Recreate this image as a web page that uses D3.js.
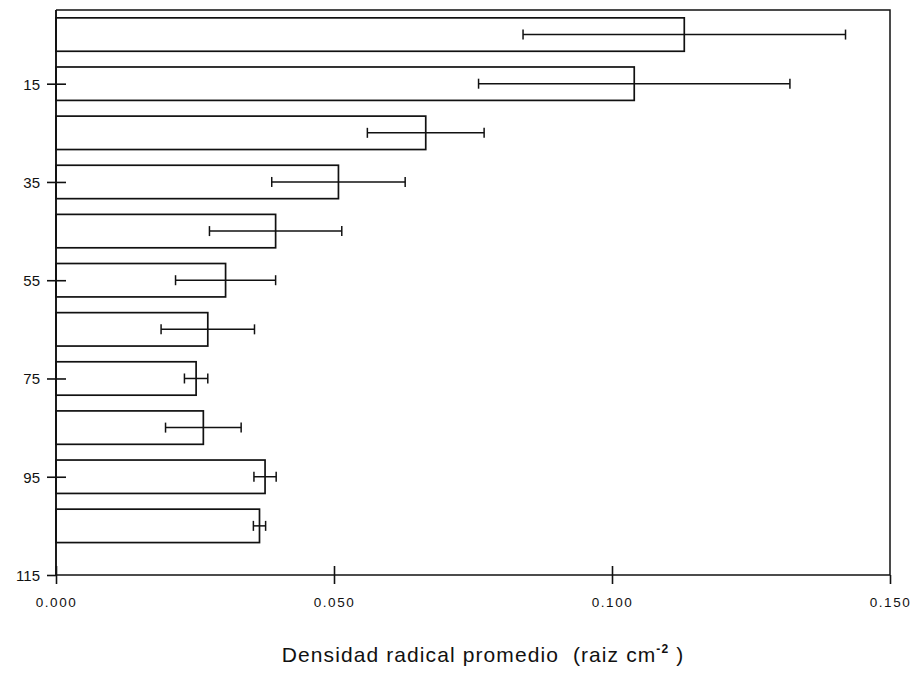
<!DOCTYPE html>
<html>
<head>
<meta charset="utf-8">
<script src="https://cdn.jsdelivr.net/npm/d3@7"></script>
<style>
  html, body { margin: 0; padding: 0; background: #fff; }
  svg { display: block; }
  text { font-family: "Liberation Sans", "DejaVu Sans", sans-serif; fill: #111; }
</style>
</head>
<body>
<svg id="chart" width="912" height="673"></svg>
<script>
// Soil depth (cm) at the middle of each layer
const depths = [5, 15, 25, 35, 45, 55, 65, 75, 85, 95, 105];
// Mean root density per layer
const means = [0.1130, 0.1040, 0.0665, 0.0508, 0.0395, 0.0305, 0.0273, 0.0252, 0.0265, 0.0376, 0.0366];
// Error half-widths
const errors = [0.0290, 0.0280, 0.0105, 0.0120, 0.0119, 0.0090, 0.0084, 0.0021, 0.0068, 0.0020, 0.0011];
// Axis tick values and labels
const yTicks = [15, 35, 55, 75, 95, 115];
const xTicks = [0, 0.05, 0.10, 0.15];
const xTickLabels = ["0.000", "0.050", "0.100", "0.150"];

(function draw() {
  const svg = d3.select("#chart");
  const mLeft = 56, mRight = 890, mTop = 10, mBottom = 575;

  const x = d3.scaleLinear().domain([0, 0.15]).range([mLeft, mRight]);
  const y = d3.scaleLinear().domain([0, 115]).range([mTop, mBottom]);
  const barThick = 6.8; // in depth units

  const ink = "#111";
  const g = svg.append("g");

  // Bars
  g.selectAll("rect.bar")
    .data(depths)
    .join("rect")
    .attr("class", "bar")
    .attr("x", x(0))
    .attr("y", d => y(d - barThick / 2))
    .attr("width", (d, i) => x(means[i]) - x(0))
    .attr("height", y(barThick) - y(0))
    .attr("fill", "#fff")
    .attr("stroke", ink)
    .attr("stroke-width", 1.7);

  // Error bars
  const eb = g.selectAll("g.err").data(depths).join("g").attr("class", "err");
  eb.append("line")
    .attr("x1", (d, i) => x(means[i] - errors[i]))
    .attr("x2", (d, i) => x(means[i] + errors[i]))
    .attr("y1", d => y(d)).attr("y2", d => y(d))
    .attr("stroke", ink).attr("stroke-width", 1.5);
  [-1, 1].forEach(s => {
    eb.append("line")
      .attr("x1", (d, i) => x(means[i] + s * errors[i]))
      .attr("x2", (d, i) => x(means[i] + s * errors[i]))
      .attr("y1", d => y(d) - 5).attr("y2", d => y(d) + 5)
      .attr("stroke", ink).attr("stroke-width", 1.5);
  });

  // Frame (top and right)
  g.append("path")
    .attr("d", `M${mLeft},${mTop}H${mRight}V${mBottom}`)
    .attr("fill", "none").attr("stroke", ink).attr("stroke-width", 1.5);

  // Y axis
  const yAxis = d3.axisLeft(y).tickValues(yTicks).tickSize(0).tickPadding(0).tickFormat(d3.format("d"));
  const ya = g.append("g").attr("transform", `translate(${mLeft},0)`).call(yAxis);
  ya.select(".domain").remove();
  ya.append("line").attr("x1", 0).attr("x2", 0).attr("y1", mTop).attr("y2", mBottom)
    .attr("stroke", ink).attr("stroke-width", 1.9);
  ya.selectAll(".tick").append("line")
    .attr("x1", -9).attr("x2", d => d === 115 ? 0 : 10)
    .attr("stroke", ink).attr("stroke-width", 1.6);
  ya.selectAll(".tick text")
    .attr("x", -16).attr("dy", "0.36em")
    .style("font-size", "15px").attr("fill", ink);

  // X axis
  const xAxis = d3.axisBottom(x).tickValues(xTicks).tickSize(0).tickPadding(0)
    .tickFormat((d, i) => xTickLabels[i]);
  const xa = g.append("g").attr("transform", `translate(0,${mBottom})`).call(xAxis);
  xa.select(".domain").remove();
  xa.append("line").attr("x1", mLeft).attr("x2", mRight).attr("y1", 0).attr("y2", 0)
    .attr("stroke", ink).attr("stroke-width", 1.7);
  xa.selectAll(".tick").append("line")
    .attr("y1", d => d === 0.15 ? 0 : -9).attr("y2", 9)
    .attr("stroke", ink).attr("stroke-width", 1.6);
  xa.selectAll(".tick text")
    .attr("y", 27).attr("dy", "0.36em")
    .style("font-size", "13.5px")
    .style("letter-spacing", "1.5px")
    .attr("fill", ink);

  // Axis title
  const title = svg.append("text")
    .attr("x", 483).attr("y", 662)
    .attr("text-anchor", "middle")
    .attr("xml:space", "preserve")
    .style("white-space", "pre")
    .style("font-size", "21px")
    .style("letter-spacing", "1.1px");
  title.append("tspan").text("Densidad radical promedio  (raiz cm");
  title.append("tspan").attr("dy", -9).style("font-size", "12px").style("font-weight", "bold").text("-2");
  title.append("tspan").attr("dy", 9).text(" )");
})();
</script>
</body>
</html>
